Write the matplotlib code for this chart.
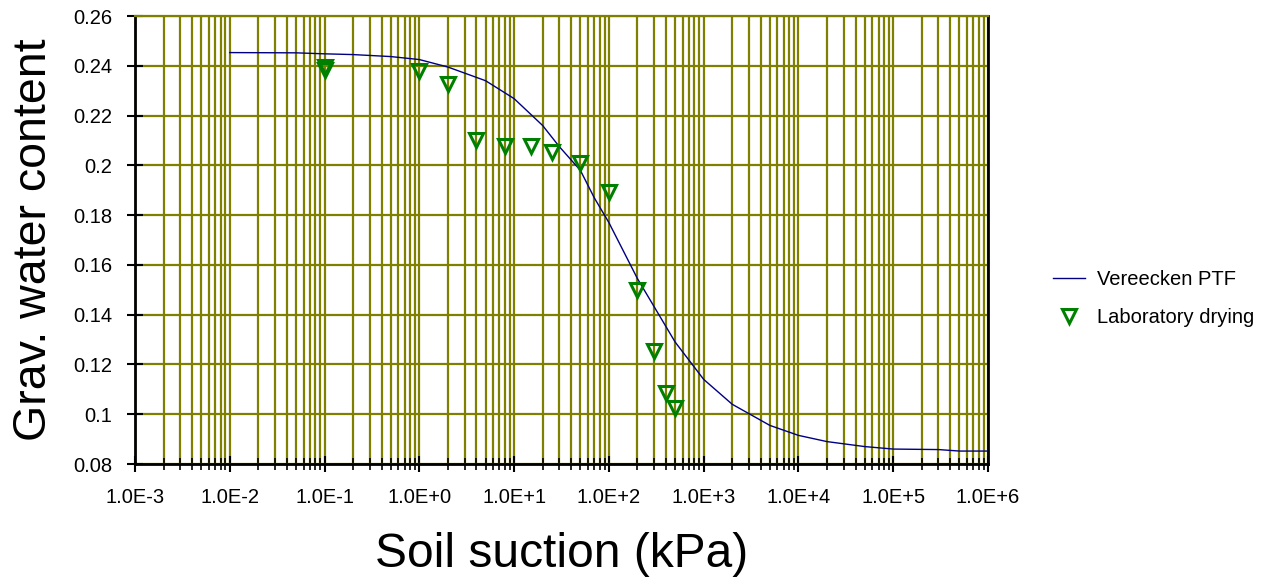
import numpy as np
import matplotlib
matplotlib.use("Agg")
import matplotlib.pyplot as plt
from matplotlib.ticker import LogLocator, NullFormatter

plt.rcParams['font.family'] = ['Liberation Sans', 'DejaVu Sans']

# Vereecken PTF curve
ptf_suction = [0.01, 0.05, 0.1, 0.2, 0.5, 1, 2, 5, 10, 20, 30, 50, 70, 100, 200,
               500, 1000, 2000, 5000, 1e4, 2e4, 5e4, 1e5, 3e5, 5e5, 1e6]
ptf_water = [0.2453, 0.2452, 0.2448, 0.2445, 0.2437, 0.2425, 0.2395, 0.2340, 0.2268,
             0.2160, 0.2075, 0.1980, 0.1870, 0.1770, 0.1545, 0.1290, 0.1140, 0.1040,
             0.0955, 0.0915, 0.0890, 0.0870, 0.0860, 0.0858, 0.0852, 0.0852]

# Laboratory drying points
lab_suction = [0.1, 0.1, 1, 2, 4, 8, 15, 25, 50, 100, 200, 300, 400, 500]
lab_water = [0.2395, 0.2385, 0.2378, 0.2327, 0.2102, 0.2078, 0.2078, 0.2054, 0.2010,
             0.1893, 0.1500, 0.1254, 0.1085, 0.1025]

x_ticks = [1e-3, 1e-2, 1e-1, 1e0, 1e1, 1e2, 1e3, 1e4, 1e5, 1e6]
x_tick_labels = ["1.0E-3", "1.0E-2", "1.0E-1", "1.0E+0", "1.0E+1", "1.0E+2",
                 "1.0E+3", "1.0E+4", "1.0E+5", "1.0E+6"]
y_ticks = [0.08, 0.10, 0.12, 0.14, 0.16, 0.18, 0.20, 0.22, 0.24, 0.26]
y_tick_labels = ["0.08", "0.1", "0.12", "0.14", "0.16", "0.18", "0.2", "0.22", "0.24", "0.26"]

olive = '#808000'

fig = plt.figure(figsize=(12.81, 5.80), dpi=100)
ax = fig.add_axes([135/1281, 1-464/580, (988-135)/1281, (464-16)/580])

ax.set_xscale('log')
ax.set_xlim(1e-3, 1e6)
ax.set_ylim(0.08, 0.26)

ax.set_xticks(x_ticks)
ax.set_xticklabels(x_tick_labels)
ax.xaxis.set_minor_locator(LogLocator(base=10, subs=np.arange(2, 10), numticks=100))
ax.xaxis.set_minor_formatter(NullFormatter())
ax.set_yticks(y_ticks)
ax.set_yticklabels(y_tick_labels)

ax.grid(True, which='both', axis='x', color=olive, linewidth=1.6, zorder=0)
ax.grid(True, which='major', axis='y', color=olive, linewidth=1.6, zorder=0)
ax.set_axisbelow(True)

ax.plot(ptf_suction, ptf_water, color='#000080', linewidth=1.0, label='Vereecken PTF', zorder=3)
ax.plot(lab_suction, lab_water, linestyle='none', marker='v', markersize=10,
        markerfacecolor='none', markeredgecolor='#008000', markeredgewidth=2.2,
        label='Laboratory drying', zorder=4)

ax.tick_params(axis='both', which='major', direction='inout', length=12, width=1.5,
               labelsize=14.5, color='black')
ax.tick_params(axis='x', which='minor', direction='inout', length=8, width=1.2, color='black')
ax.tick_params(axis='x', which='major', pad=11)
ax.tick_params(axis='y', which='major', pad=10.5)
ax.tick_params(top=False, right=False)

for s in ['left', 'bottom', 'right']:
    ax.spines[s].set_color('black')
    ax.spines[s].set_linewidth(2)
ax.spines['top'].set_color(olive)
ax.spines['top'].set_linewidth(1.6)

ax.set_xlabel('Soil suction (kPa)', fontsize=34.5, labelpad=18)
ax.set_ylabel('Grav. water content', fontsize=33.5, labelpad=12)

leg = ax.legend(loc='center left', bbox_to_anchor=(1.055, 0.37), frameon=False,
                fontsize=14.5, handlelength=1.6, handletextpad=0.6, labelspacing=0.95)

fig.savefig('out.png', dpi=100)
